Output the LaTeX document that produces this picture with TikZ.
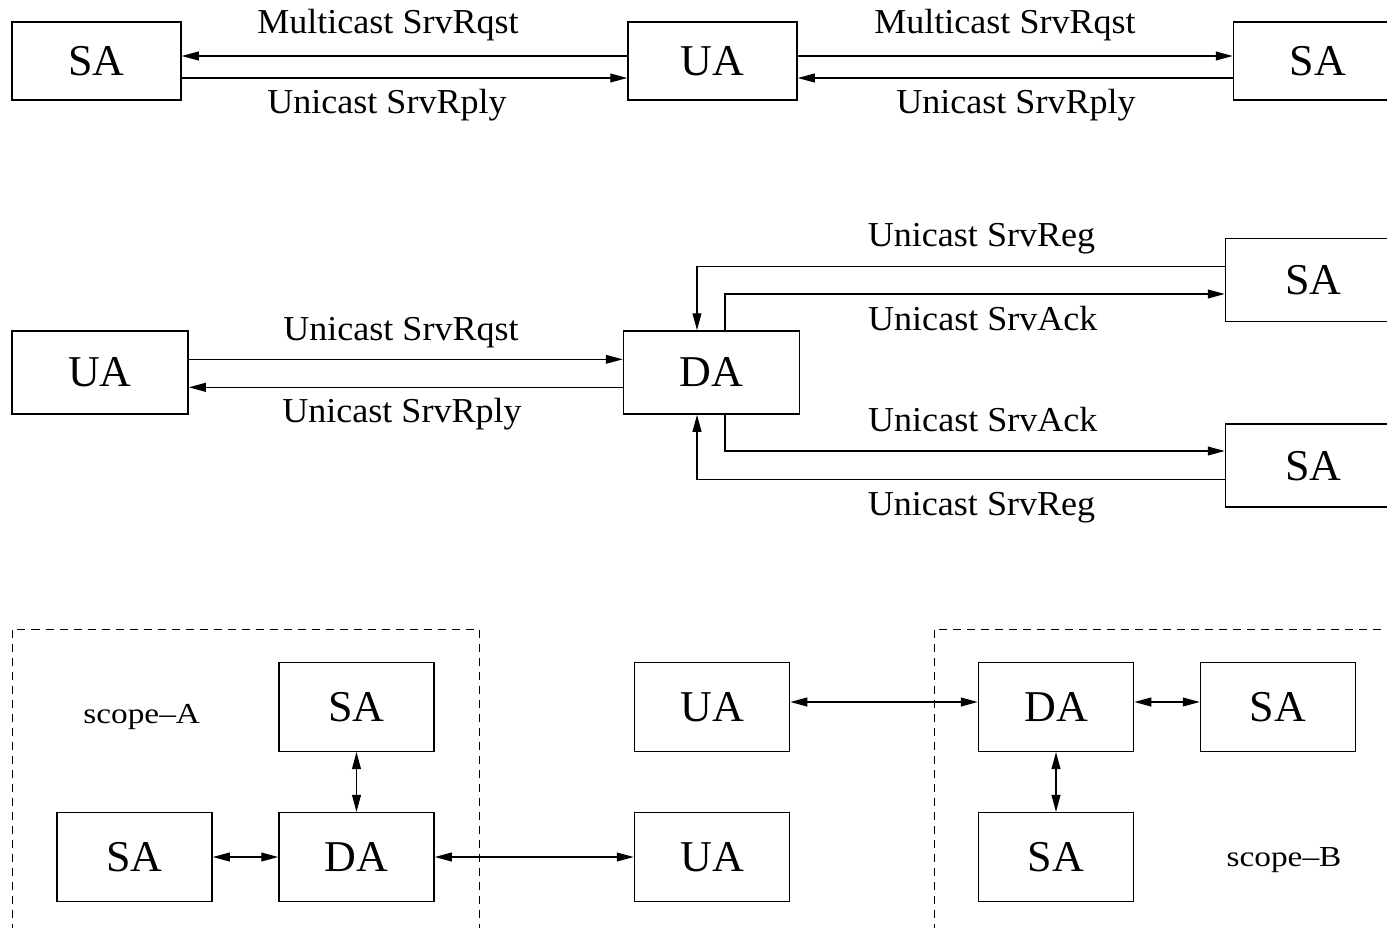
\documentclass[tikz,border=0pt]{standalone}
\usepackage{fontspec}
\setmainfont{Liberation Serif}
\newfontfamily\lblfont{Liberation Serif}[FakeStretch=1.03]
\newfontfamily\scopefont{Liberation Serif}[FakeStretch=1.15]
\usetikzlibrary{arrows.meta}
\begin{document}
\begin{tikzpicture}[x=0.5pt,y=-0.5pt,
  agent/.style={draw, line width=0.75pt, inner sep=0pt,
    font=\fontsize{22}{26}\selectfont},
  wide/.style={agent, minimum width=84.5pt, minimum height=39pt},
  mid/.style={agent, minimum width=88pt, minimum height=41.5pt},
  small/.style={agent, minimum width=77.5pt, minimum height=44.3pt},
  msg/.style={anchor=base, inner sep=0pt, font=\lblfont\fontsize{17.5}{20}\selectfont},
  scopelbl/.style={anchor=base, inner sep=0pt, font=\scopefont\fontsize{14.5}{17}\selectfont},
  link/.style={line width=0.7pt, -{Triangle[length=8.5pt,width=4.4pt]}},
  bilink/.style={line width=0.7pt, {Triangle[length=8.5pt,width=4.4pt]}-{Triangle[length=8.5pt,width=4.4pt]}},
  scopebox/.style={line width=0.5pt, dash pattern=on 4pt off 3pt}]
\clip (0,0) rectangle (1387,927);
\fill[white] (0,0) rectangle (1387,927);

% --- multicast discovery without a DA ---
\node[wide] (sa1) at (96.5,61) {SA};
\node[wide] (ua1) at (712.5,61) {UA};
\node[wide] (sa2) at (1318,61) {SA};
\draw[link] (ua1.west |- 0,56) -- (sa1.east |- 0,56);
\draw[link] (sa1.east |- 0,78) -- (ua1.west |- 0,78);
\draw[link] (ua1.east |- 0,56) -- (sa2.west |- 0,56);
\draw[link] (sa2.west |- 0,78) -- (ua1.east |- 0,78);
\node[msg] (m1) at (388,33) {Multicast SrvRqst};
\node[msg] (r1) at (387,113) {Unicast SrvRply};
\node[msg] (m2) at (1005,33) {Multicast SrvRqst};
\node[msg] (r2) at (1016,113) {Unicast SrvRply};

% --- unicast discovery through a DA ---
\node[mid] (ua2) at (100,372.5) {UA};
\node[mid] (da2) at (711.5,372.5) {DA};
\node[mid] (sa3) at (1313.5,280) {SA};
\node[mid] (sa4) at (1313.5,465.7) {SA};
\draw[link] (ua2.east |- 0,359.3) -- (da2.west |- 0,359.3);
\draw[link] (da2.west |- 0,387.3) -- (ua2.east |- 0,387.3);
\draw[link] (sa3.west |- 0,266.7) -| (da2.north -| 697,0);
\draw[link] (da2.north -| 725,0) |- (sa3.west |- 0,294);
\draw[link] (da2.south -| 725,0) |- (sa4.west |- 0,451);
\draw[link] (sa4.west |- 0,479.3) -| (da2.south -| 697,0);
\node[msg] (q3) at (401,340) {Unicast SrvRqst};
\node[msg] (r3) at (402,422.7) {Unicast SrvRply};
\node[msg] (g1) at (981.5,246.7) {Unicast SrvReg};
\node[msg] (k1) at (982.8,330) {Unicast SrvAck};
\node[msg] (k2) at (982.8,431.7) {Unicast SrvAck};
\node[msg] (g2) at (981.5,515) {Unicast SrvReg};

% --- scopes ---
\draw[scopebox] (12.5,960) -- (12.5,629) -- (479,629) -- (479,960);
\draw[scopebox] (934,960) -- (934,629) -- (1420,629);
\node[scopelbl] (sca) at (141.7,723.3) {scope–A};
\node[scopelbl] (scb) at (1284,866) {scope–B};

\node[small] (saA1) at (356.5,707) {SA};
\node[small] (saA2) at (134.5,857) {SA};
\node[small] (daA) at (356.5,857) {DA};
\node[small] (uaB1) at (712,707) {UA};
\node[small] (uaB2) at (712,857) {UA};
\node[small] (daB) at (1056,707) {DA};
\node[small] (saB1) at (1278,707) {SA};
\node[small] (saB2) at (1056,857) {SA};
\draw[bilink] (saA1.south) -- (daA.north);
\draw[bilink] (saA2.east) -- (daA.west);
\draw[bilink] (daA.east) -- (uaB2.west);
\draw[bilink] (uaB1.east |- 0,702) -- (daB.west |- 0,702);
\draw[bilink] (daB.east |- 0,702) -- (saB1.west |- 0,702);
\draw[bilink] (daB.south) -- (saB2.north);
\end{tikzpicture}
\end{document}
